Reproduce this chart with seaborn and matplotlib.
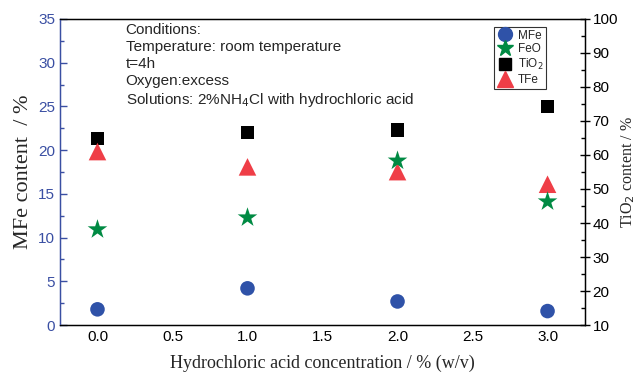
import matplotlib
matplotlib.use("Agg")
import matplotlib.pyplot as plt
import seaborn as sns
import pandas as pd
from matplotlib.ticker import MultipleLocator
from matplotlib.lines import Line2D

conc = [0.0, 1.0, 2.0, 3.0]
mfe = [1.8, 4.2, 2.7, 1.6]
feo = [38.1, 41.6, 58.3, 46.3]
tio2 = [64.9, 66.6, 67.3, 74.2]
tfe = [61.0, 56.5, 55.1, 51.4]

sns.set_style("white")
plt.rcParams['font.family'] = ['Liberation Sans', 'DejaVu Sans']

left_col = "#3a4fa3"
fig = plt.figure(figsize=(6.38, 3.78), dpi=100)
ax = fig.add_axes([0.094, 0.140, 0.823, 0.810])
ax2 = ax.twinx()

df = pd.DataFrame({"conc": conc, "MFe": mfe, "FeO": feo, "TiO2": tio2, "TFe": tfe})

sns.scatterplot(data=df, x="conc", y="MFe", ax=ax, marker="o", s=110, color="#2f52a8",
                edgecolor="none", zorder=3)
sns.scatterplot(data=df, x="conc", y="TiO2", ax=ax2, marker="s", s=95, color="black",
                edgecolor="none", zorder=3)
sns.scatterplot(data=df, x="conc", y="TFe", ax=ax2, marker="^", s=160, color="#ef3e47",
                edgecolor="none", zorder=3)
sns.scatterplot(data=df, x="conc", y="FeO", ax=ax2, marker="*", s=220, color="#008a43",
                edgecolor="none", zorder=4)

ax.set_xlim(-0.25, 3.25)
ax.set_ylim(0, 35)
ax2.set_ylim(10, 100)

ax.xaxis.set_major_locator(MultipleLocator(0.5))
ax.xaxis.set_minor_locator(MultipleLocator(0.25))
ax.yaxis.set_major_locator(MultipleLocator(5))
ax.yaxis.set_minor_locator(MultipleLocator(2.5))
ax2.yaxis.set_major_locator(MultipleLocator(10))
ax2.yaxis.set_minor_locator(MultipleLocator(5))
ax.set_xticks([0, 0.5, 1, 1.5, 2, 2.5, 3])
ax.set_xticklabels(["0.0", "0.5", "1.0", "1.5", "2.0", "2.5", "3.0"])

for sp in ax.spines.values():
    sp.set_color("black")
    sp.set_linewidth(1.0)
ax.spines["left"].set_color(left_col)
ax2.spines["left"].set_color(left_col)
for sp in ["top", "right", "bottom"]:
    ax2.spines[sp].set_color("black")

ax.tick_params(axis="x", which="major", direction="in", length=5, width=1, labelsize=11,
               colors="black", top=False)
ax.tick_params(axis="x", which="minor", direction="in", length=3, width=1, top=False)
ax.tick_params(axis="y", which="major", direction="in", length=5, width=1, labelsize=11,
               colors=left_col)
ax.tick_params(axis="y", which="minor", direction="in", length=3, width=1, colors=left_col)
ax2.tick_params(axis="y", which="major", direction="inout", length=7, width=1, labelsize=11,
                colors="black", pad=2)
ax2.tick_params(axis="y", which="minor", direction="in", length=3, width=1, colors="black")

serif = ['Liberation Serif', 'DejaVu Serif']
ax.set_xlabel("Hydrochloric acid concentration / % (w/v)", fontsize=13, family=serif, labelpad=8)
ax.set_ylabel("MFe content  / %", fontsize=16, family=serif, labelpad=4)
ax2.set_ylabel("TiO$_2$ content / %", fontsize=11.5, family=serif, labelpad=1)

ax.text(0.125, 0.985, "Conditions:\nTemperature: room temperature\nt=4h\nOxygen:excess\n"
        "Solutions: 2%NH$_4$Cl with hydrochloric acid",
        transform=ax.transAxes, ha="left", va="top", fontsize=11, linespacing=1.25)

handles = [
    Line2D([], [], marker="o", ls="none", color="#2f52a8", markersize=10),
    Line2D([], [], marker="*", ls="none", color="#008a43", markersize=12),
    Line2D([], [], marker="s", ls="none", color="black", markersize=9),
    Line2D([], [], marker="^", ls="none", color="#ef3e47", markersize=11),
]
leg = ax2.legend(handles, ["MFe", "FeO", "TiO$_2$", "TFe"], loc="upper right",
                 bbox_to_anchor=(0.926, 0.975), fontsize=8.5, frameon=True, fancybox=False,
                 edgecolor="black", handletextpad=0.4, borderpad=0.25, labelspacing=0.15,
                 handlelength=1.4, borderaxespad=0)
leg.get_frame().set_linewidth(0.8)

fig.savefig("out.png", dpi=100)
